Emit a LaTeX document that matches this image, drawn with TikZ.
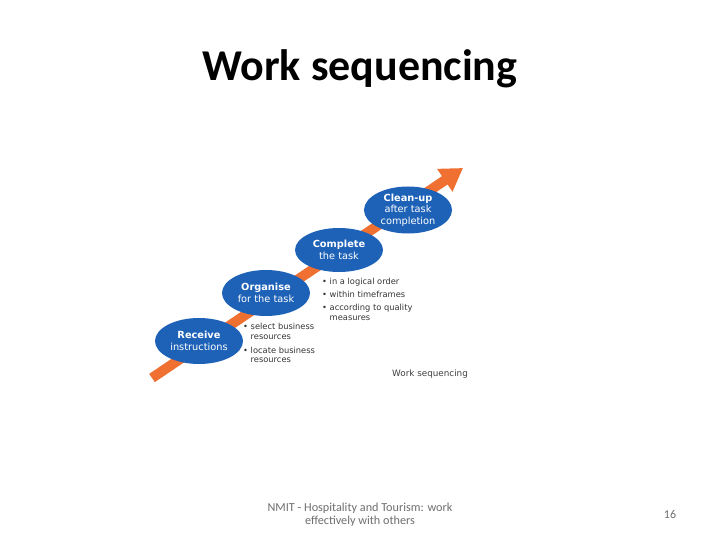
\documentclass[tikz,border=0pt]{standalone}
\usepackage{fontspec}
\setmainfont{Carlito}
\newfontfamily\verd{DejaVu Sans}
\usetikzlibrary{arrows.meta,shapes.geometric}
\definecolor{bblue}{RGB}{30,98,184}
\definecolor{aorange}{RGB}{240,112,50}
\definecolor{ftgray}{RGB}{110,110,110}
\tikzset{
  stage/.style={ellipse, fill=bblue, text=white, minimum width=88pt, minimum height=46pt, inner sep=0pt, align=center, font=\verd\fontsize{9.8}{11.5}\selectfont},
  blt/.style={anchor=north west, align=left, text=black!80, font=\verd\fontsize{8.3}{9.8}\selectfont, inner sep=0pt},
}
\begin{document}
\begin{tikzpicture}[x=1pt,y=-1pt]
\useasboundingbox (0,0) rectangle (720,540);
\node (title) at (360,69) {\fontsize{44}{46}\selectfont\bfseries Work sequencing};
\coordinate (tail) at (152,378);
\coordinate (tip) at (463,168);
\draw[aorange, line width=10pt, -{Triangle[length=22pt,width=26pt]}] (tail) -- (tip);
\node[stage] (s1) at (199,341) {\textbf{Receive}\\instructions};
\node[stage] (s2) at (266,293) {\textbf{Organise}\\for the task};
\node[stage, minimum height=44pt] (s3) at (339,250) {\textbf{Complete}\\the task};
\node[stage, minimum height=47pt] (s4) at (408,210) {\textbf{Clean-up}\\after task\\completion};
\node[blt] (b1) at (243,323) {• select business\\\hphantom{• }resources\\[4pt]• locate business\\\hphantom{• }resources};
\node[blt] (b2) at (322,277.5) {• in a logical order\\[3.5pt]• within timeframes\\[3.5pt]• according to quality\\\hphantom{• }measures};
\node[anchor=north west, inner sep=0pt, text=black!75, font=\verd\fontsize{8.8}{10}\selectfont] (cap) at (392,370) {Work sequencing};
\node[align=center, text=ftgray, font=\fontsize{12.2}{13}\selectfont] (foot) at (360,515) {NMIT - Hospitality and Tourism: work\\effectively with others};
\node[text=ftgray, font=\fontsize{12}{13}\selectfont] (num) at (670,514) {16};
\end{tikzpicture}
\end{document}
